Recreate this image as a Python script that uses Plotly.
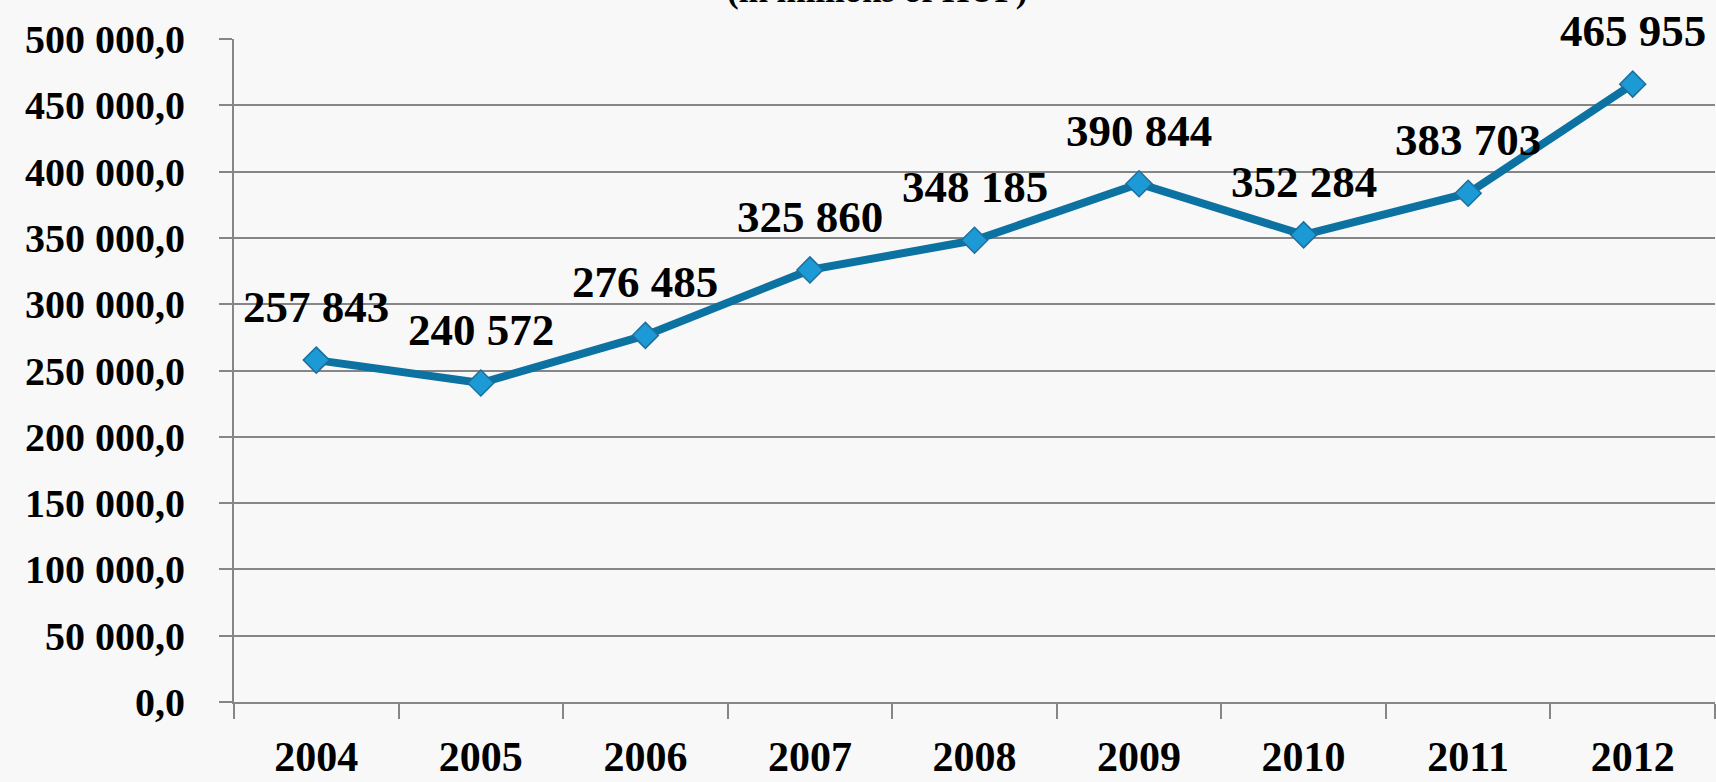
import plotly.graph_objects as go

years = ["2004", "2005", "2006", "2007", "2008", "2009", "2010", "2011", "2012"]
values = [257843, 240572, 276485, 325860, 348185, 390844, 352284, 383703, 465955]
label_texts = ["257 843", "240 572", "276 485", "325 860", "348 185",
               "390 844", "352 284", "383 703", "465 955"]
y_ticks = [0, 50000, 100000, 150000, 200000, 250000, 300000, 350000, 400000, 450000, 500000]
y_tick_labels = ["0,0", "50 000,0", "100 000,0", "150 000,0", "200 000,0", "250 000,0",
                 "300 000,0", "350 000,0", "400 000,0", "450 000,0", "500 000,0"]
title_text = "(in millions of HUF)"

FONT = "Liberation Serif"
GRID = "#868686"

fig = go.Figure()
fig.add_trace(go.Scatter(
    x=years, y=values, mode="lines+markers",
    line=dict(color="#0B72A2", width=8),
    marker=dict(symbol="diamond", size=20, color="#1C9AD6",
                line=dict(color="#1F6E9C", width=1.5)),
    cliponaxis=False, hoverinfo="skip", showlegend=False,
))

# category axis: annotations positioned by category index
for i, (y, t) in enumerate(zip(values, label_texts)):
    fig.add_annotation(x=i, y=y, xref="x", yref="y", text=t, showarrow=False,
                       yshift=53,
                       font=dict(family=FONT, size=45, color="black", weight="bold"))

fig.add_annotation(xref="paper", yref="paper", x=0.434, y=1.040,
                   xanchor="center", yanchor="bottom", showarrow=False,
                   text=title_text,
                   font=dict(family=FONT, size=35, color="black", weight="bold"))

fig.update_layout(
    width=1716, height=782,
    margin=dict(l=234, r=1, t=39, b=80),
    paper_bgcolor="#f8f8f8", plot_bgcolor="#f8f8f8",
    font=dict(family=FONT, color="black"),
)
fig.update_xaxes(
    type="category", range=[-0.5, 8.5], automargin=False,
    showgrid=False, showline=True, linecolor=GRID, linewidth=2,
    ticks="outside", tickson="boundaries", ticklen=15, tickwidth=2, tickcolor=GRID,
    tickfont=dict(family=FONT, size=42, color="black", weight="bold"),
    ticklabelstandoff=17,
)
fig.update_yaxes(
    range=[0, 500000], tickvals=y_ticks, ticktext=y_tick_labels, automargin=False,
    showgrid=True, gridcolor=GRID, gridwidth=2,
    showline=True, linecolor=GRID, linewidth=2,
    ticks="outside", ticklen=13, tickwidth=2, tickcolor=GRID,
    tickfont=dict(family=FONT, size=40, color="black", weight="bold"),
    ticklabelstandoff=26, zeroline=False,
)

fig.write_html("out.html",
               config={"displayModeBar": False},
               post_script="document.body.style.margin='0';"
                           "document.body.style.overflow='hidden';"
                           "document.body.style.background='#f8f8f8';")
